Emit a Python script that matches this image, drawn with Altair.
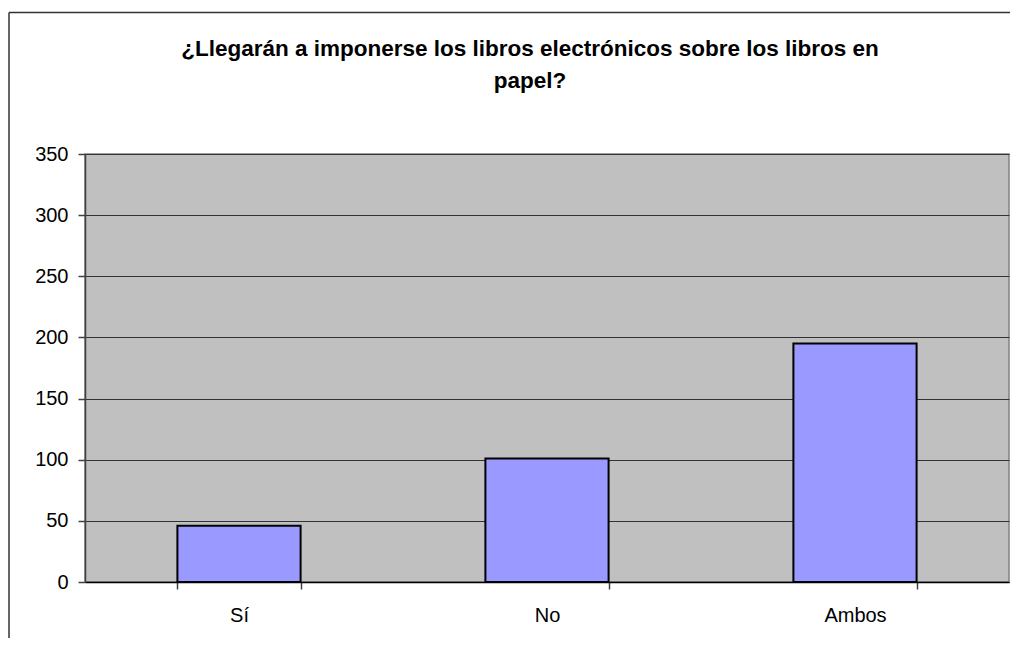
import altair as alt
import pandas as pd

categories = ["Sí", "No", "Ambos"]
values = [46, 101, 195]
title_line1 = ["¿Llegarán a imponerse los libros electrónicos sobre los libros en"]
title_line2 = ["papel?"]

df = pd.DataFrame({"cat": categories, "val": values})

FONT = "Liberation Sans"

bars = alt.Chart(df).mark_bar(
    color="#9999FF", stroke="#000000", strokeWidth=2
).encode(
    x=alt.X("cat:N", sort=categories, title=None,
            scale=alt.Scale(paddingInner=0.6, paddingOuter=0.3),
            axis=alt.Axis(labelAngle=0, tickBand="extent", tickSize=7,
                          tickColor="#404040", tickWidth=1.5,
                          domainColor="#000000", domainWidth=1.5,
                          labelPadding=16, labelFontSize=20, labelFont=FONT,
                          labelColor="#000000", grid=False)),
    y=alt.Y("val:Q", title=None,
            scale=alt.Scale(domain=[0, 350], nice=False),
            axis=alt.Axis(values=[0, 50, 100, 150, 200, 250, 300, 350],
                          tickSize=7, tickColor="#404040", tickWidth=1.5,
                          domainColor="#404040", domainWidth=1.5,
                          labelPadding=10, labelFontSize=20, labelFont=FONT,
                          labelColor="#000000",
                          grid=True, gridColor="#333333", gridWidth=1))
)

frame = pd.DataFrame({"k": [0]})
left_line = alt.Chart(frame).mark_rule(color="#333333", strokeWidth=1.5).encode(
    x=alt.value(-76), y=alt.value(-141.5), y2=alt.value(484))
top_line = alt.Chart(frame).mark_rule(color="#333333", strokeWidth=1.5).encode(
    x=alt.value(-76), x2=alt.value(925), y=alt.value(-141.5))

t1 = alt.Chart(pd.DataFrame({"t": title_line1})).mark_text(
    font=FONT, fontSize=22.5, fontWeight="bold", color="#000000",
    align="center", baseline="alphabetic"
).encode(text="t:N", x=alt.value(445), y=alt.value(-98))
t2 = alt.Chart(pd.DataFrame({"t": title_line2})).mark_text(
    font=FONT, fontSize=22.5, fontWeight="bold", color="#000000",
    align="center", baseline="alphabetic"
).encode(text="t:N", x=alt.value(445), y=alt.value(-66))

chart = alt.layer(bars, left_line, top_line, t1, t2).properties(
    width=924, height=428,
    background="#FFFFFF",
    autosize=alt.AutoSizeParams(type="none"),
    padding={"left": 77, "top": 146, "right": 1, "bottom": 56},
).configure_view(
    fill="#C0C0C0", stroke="#808080", strokeWidth=1.5
)

chart.save("out.html", embed_options={"renderer": "svg", "actions": False})
